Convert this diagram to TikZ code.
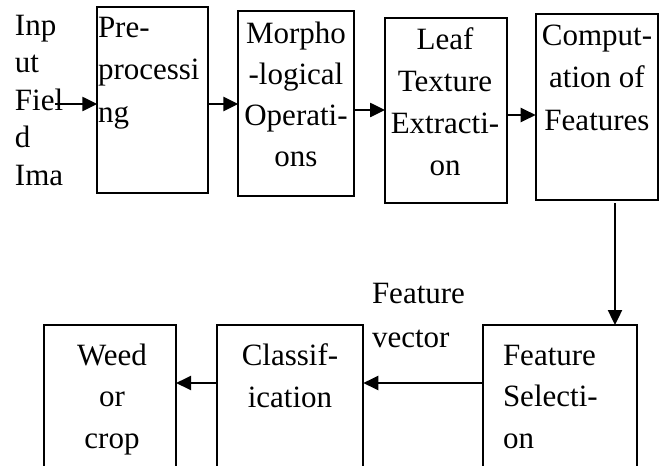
\documentclass[tikz,border=0pt]{standalone}
\usepackage{fontspec}
\setmainfont{Liberation Serif}
\usetikzlibrary{arrows.meta}

\begin{document}
\begin{tikzpicture}[x=1pt, y=-1pt,
  box/.style={draw, line width=1.9pt, inner sep=0pt, outer sep=0pt},
  txt/.style={inner sep=0pt, outer sep=0pt, anchor=north},
  flow/.style={line width=2.4pt, -{Triangle[length=15pt,width=14pt]}},
  bs/.style={font=\fontsize{31}{#1}\selectfont}
]
\useasboundingbox (0,0) rectangle (662,466);
\clip (0,0) rectangle (662,466);

% top row of boxes
\node[box, minimum width=111pt, minimum height=186pt] (pre)   at (152.8,99.7) {};
\node[box, minimum width=115.7pt, minimum height=185pt] (morph) at (296.2,103.5) {};
\node[box, minimum width=121.7pt, minimum height=184.4pt] (leaf) at (445.9,110.5) {};
\node[box, minimum width=122.6pt, minimum height=185.7pt] (comp) at (597,107.2) {};

% bottom row of boxes (running past the lower edge)
\node[box, minimum width=131.7pt, minimum height=200pt] (weed) at (110.2,425) {};
\node[box, minimum width=146pt, minimum height=200pt] (cls)  at (290.3,425) {};
\node[box, minimum width=154pt, minimum height=200pt] (fsel) at (559.7,425) {};

% texts
\node[txt, anchor=north west, align=left, bs=37.5] (tin) at (15,8.75)
  {\strut Inp\\\strut ut\\\strut Fiel\\\strut d\\\strut Ima};
\node[txt, anchor=north west, align=left, bs=42.5] (tpre) at (98,7.25)
  {\strut Pre-\\\strut processi\\\strut ng};
\node[txt, align=center, bs=41] (tmorph) at (296,14.3)
  {\strut Morpho\\\strut -logical\\\strut Operati-\\\strut ons};
\node[txt, align=center, bs=41.7] (tleaf) at (445,20.8)
  {\strut Leaf\\\strut Texture\\\strut Extracti-\\\strut on};
\node[txt, align=center, bs=42.5] (tcomp) at (597,15.25)
  {\strut Comput-\\\strut ation of\\\strut Features};
\node[txt, align=center, bs=41.5] (tweed) at (112,336)
  {\strut Weed\\\strut or\\\strut crop};
\node[txt, align=center, bs=42] (tcls) at (290,336)
  {\strut Classif-\\\strut ication};
\node[txt, anchor=north west, align=left, bs=44] (tfv) at (372,272.2)
  {\strut Feature\\\strut vector};
\node[txt, anchor=north west, align=left, bs=41.5] (tfsel) at (503,336)
  {\strut Feature\\\strut Selecti-\\\strut on};

% connectors
\coordinate (src) at (55,104);
\coordinate (down) at (615,0);
\draw[flow] (src) -- (src -| pre.west);
\draw[flow] (pre.east |- 0,104) -- (morph.west |- 0,104);
\draw[flow] (morph.east |- 0,110) -- (leaf.west |- 0,110);
\draw[flow] (leaf.east |- 0,115) -- (comp.west |- 0,115);
\draw[flow] ([yshift=-3pt]comp.south -| down) -- (fsel.north -| down);
\draw[flow] (fsel.west |- 0,383) -- (cls.east |- 0,383);
\draw[flow] (cls.west |- 0,383) -- (weed.east |- 0,383);
\end{tikzpicture}
\end{document}
